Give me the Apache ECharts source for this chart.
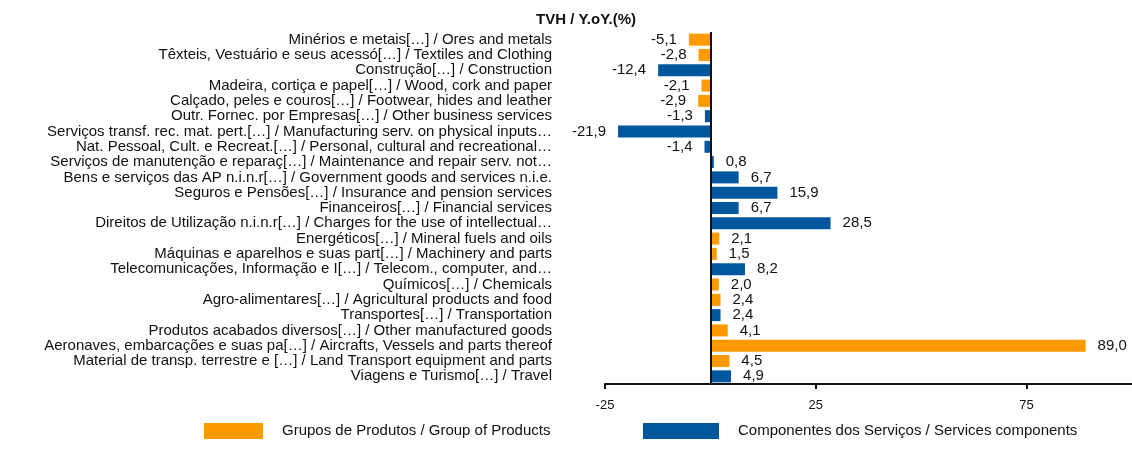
<!DOCTYPE html>
<html>
<head>
<meta charset="utf-8">
<script src="https://cdn.jsdelivr.net/npm/echarts@6/dist/echarts.min.js"></script>
<style>
html,body{margin:0;padding:0;background:#fff;}
#chart{width:1132px;height:468px;}
</style>
</head>
<body>
<div id="chart"></div>
<script>
const categories = [
  "Minérios e metais[…] / Ores and metals",
  "Têxteis, Vestuário e seus acessó[…] / Textiles and Clothing",
  "Construção[…] / Construction",
  "Madeira, cortiça e papel[…] / Wood, cork and paper",
  "Calçado, peles e couros[…] / Footwear, hides and leather",
  "Outr. Fornec. por Empresas[…] / Other business services",
  "Serviços transf. rec. mat. pert.[…] / Manufacturing serv. on physical inputs…",
  "Nat. Pessoal, Cult. e Recreat.[…] / Personal, cultural and recreational…",
  "Serviços de manutenção e reparaç[…] / Maintenance and repair serv. not…",
  "Bens e serviços das AP n.i.n.r[…] / Government goods and services n.i.e.",
  "Seguros e Pensões[…] / Insurance and pension services",
  "Financeiros[…] / Financial services",
  "Direitos de Utilização n.i.n.r[…] / Charges for the use of intellectual…",
  "Energéticos[…] / Mineral fuels and oils",
  "Máquinas e aparelhos e suas part[…] / Machinery and parts",
  "Telecomunicações, Informação e I[…] / Telecom., computer, and…",
  "Químicos[…] / Chemicals",
  "Agro-alimentares[…] / Agricultural products and food",
  "Transportes[…] / Transportation",
  "Produtos acabados diversos[…] / Other manufactured goods",
  "Aeronaves, embarcações e suas pa[…] / Aircrafts, Vessels and parts thereof",
  "Material de transp. terrestre e […] / Land Transport equipment and parts",
  "Viagens e Turismo[…] / Travel"
];
const productValues = [-5.1, -2.8, null, -2.1, -2.9, null, null, null, null, null, null, null, null, 2.1, 1.5, null, 2.0, 2.4, null, 4.1, 89.0, 4.5, null];
const serviceValues = [null, null, -12.4, null, null, -1.3, -21.9, -1.4, 0.8, 6.7, 15.9, 6.7, 28.5, null, null, 8.2, null, null, 2.4, null, null, null, 4.9];
const xTicks = [-25, 25, 75];
const seriesNames = ["Grupos de Produtos / Group of Products", "Componentes dos Serviços / Services components"];
const titleText = "TVH / Y.oY.(%)";

const FONT = 'Liberation Sans';
const fmt = p => (typeof p.value === 'number') ? p.value.toFixed(1).replace('.', ',') : '';
const labelCfg = {
  show: true,
  position: 'right',
  distance: 12,
  fontFamily: FONT,
  fontSize: 15,
  color: '#111',
  formatter: fmt
};
function mkData(arr) {
  return arr.map(v => {
    if (v === null) return '-';
    return v < 0 ? { value: v, label: { position: 'left' } } : v;
  });
}

const chart = echarts.init(document.getElementById('chart'), null, { renderer: 'canvas' });
chart.setOption({
  animation: false,
  backgroundColor: '#fff',
  title: {
    text: titleText,
    left: 581,
    textAlign: 'center',
    top: 7,
    textStyle: { fontFamily: FONT, fontSize: 15, fontWeight: 'bold', color: '#111' }
  },
  grid: { left: 605, right: 0, top: 32, bottom: 84, containLabel: false },
  legend: [
    {
      data: [seriesNames[0]], left: 199, top: 418, itemWidth: 59, itemHeight: 16, icon: 'rect',
      textStyle: { fontFamily: FONT, fontSize: 15, color: '#111', padding: [0, 0, 0, 14] }
    },
    {
      data: [seriesNames[1]], left: 638, top: 418, itemWidth: 76, itemHeight: 16, icon: 'rect',
      textStyle: { fontFamily: FONT, fontSize: 15, color: '#111', padding: [0, 0, 0, 14] }
    }
  ],
  xAxis: {
    type: 'value',
    min: -25,
    max: 100,
    interval: 50,
    splitLine: { show: false },
    axisLine: { show: true, onZero: false, lineStyle: { color: '#111', width: 2 } },
    axisTick: { show: true, length: 5, customValues: xTicks, lineStyle: { color: '#111', width: 2 } },
    axisLabel: {
      customValues: xTicks, margin: 15,
      fontFamily: FONT, fontSize: 13, color: '#111'
    }
  },
  yAxis: {
    type: 'category',
    data: categories,
    inverse: true,
    axisLine: { show: false },
    axisTick: { show: false },
    axisLabel: {
      interval: 0, margin: 53,
      fontFamily: FONT, fontSize: 15, color: '#111'
    }
  },
  series: [
    {
      name: seriesNames[0],
      type: 'bar',
      stack: 'all',
      barWidth: 12,
      itemStyle: { color: '#FF9900' },
      label: labelCfg,
      data: mkData(productValues),
      markLine: {
        silent: true,
        symbol: 'none',
        label: { show: false },
        lineStyle: { color: '#111', width: 2, type: 'solid' },
        data: [{ xAxis: 0 }]
      }
    },
    {
      name: seriesNames[1],
      type: 'bar',
      stack: 'all',
      barWidth: 12,
      itemStyle: { color: '#00579E' },
      label: labelCfg,
      data: mkData(serviceValues)
    }
  ]
});
</script>
</body>
</html>
